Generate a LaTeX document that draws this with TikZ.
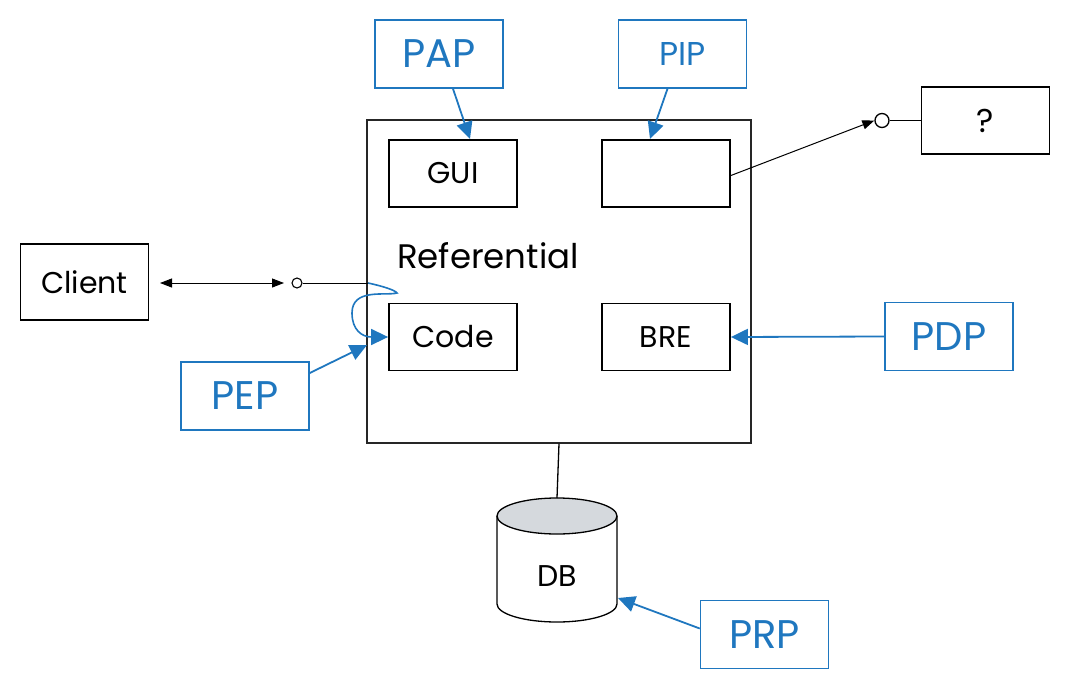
\documentclass[tikz,border=0pt]{standalone}
\usepackage{fontspec}
\setmainfont{Poppins}
\usetikzlibrary{arrows.meta}
\definecolor{pblue}{HTML}{1F77BF}
\definecolor{dbtop}{HTML}{D5D9DD}
\begin{document}
\begin{tikzpicture}[x=1pt,y=-1pt,
  box/.style={draw=black,line width=1.8pt,minimum width=128pt,minimum height=67pt,inner sep=0pt,font=\fontsize{30}{33}\selectfont},
  bbox/.style={draw=pblue,line width=1.5pt,minimum width=128pt,minimum height=68pt,inner sep=0pt,text=pblue,font=\fontsize{40}{44}\selectfont},
  barrow/.style={draw=pblue,line width=1.8pt,-{Triangle[length=17pt,width=16pt]}},
  karrow/.style={draw=black,line width=1pt,-{Triangle[length=12pt,width=9pt]}}
]
\useasboundingbox (0,0) rectangle (1072,691);
% main referential box
\node[draw=black!85,line width=1.1pt,minimum width=384pt,minimum height=323pt,inner sep=0pt] (ref) at (559,281.5) {};
\node[font=\fontsize{34}{37}\selectfont] (reftext) at (488,256) {Referential};
% inner boxes
\node[box] (gui) at (453,173.5) {GUI};
\node[box] (pipbox) at (666,173.5) {};
\node[box] (code) at (453,337) {Code};
\node[box] (bre) at (666,337) {BRE};
% outer black boxes
\node[box,minimum height=76pt] (client) at (84.5,282) {Client};
\node[box,font=\fontsize{33}{36}\selectfont] (q) at (985.5,120.5) {?};
% blue boxes
\node[bbox] (pap) at (439,54) {PAP};
\node[bbox,font=\fontsize{33}{36}\selectfont] (pip) at (682.5,54) {PIP};
\node[bbox] (pdp) at (949,336.5) {PDP};
\node[bbox] (pep) at (245,396) {PEP};
\node[bbox] (prp) at (764.5,634.5) {PRP};
% DB cylinder
\coordinate (dbtopc) at (557,516);
\fill[white] (497,516) -- (497,604) arc[start angle=180,end angle=0,x radius=60,y radius=18] -- (617,516) -- cycle;
\draw[line width=1.3pt] (497,516) -- (497,604) arc[start angle=180,end angle=0,x radius=60,y radius=18] -- (617,516);
\draw[line width=1.3pt,fill=dbtop] (dbtopc) ellipse[x radius=60,y radius=18];
\node[font=\fontsize{30}{33}\selectfont] (db) at (557,576) {DB};
\coordinate (dbtopedge) at (557,498);
\draw[line width=1.3pt] (ref.south) -- (dbtopedge);
% blue arrows
\draw[barrow] (pap.south) ++(14,0) coordinate (papout) -- (470,139);
\draw[barrow] (pip.south) ++(-15,0) coordinate (pipout) -- (650,139);
\draw[barrow] (pdp.west) -- (bre.east);
\draw[barrow] (pep.east) ++(0,-23) coordinate (pepout) -- (367,345);
\draw[barrow] (prp.west) ++(0,-6) coordinate (prpout) -- (618,598);
% loop arrow
\coordinate (loopstart) at (368,283);
\draw[draw=pblue,line width=1.6pt,-{Triangle[length=17pt,width=16pt]}] (loopstart) .. controls (382,286) and (395,290) .. (397,293) .. controls (385,296) and (352,288) .. (352,313) .. controls (352,330) and (362,337) .. (code.west);
% client connection
\coordinate (clientarr) at (160,283);
\coordinate (clientarr2) at (284,283);
\draw[line width=1pt,{Triangle[length=12pt,width=9pt]}-{Triangle[length=12pt,width=9pt]}] (clientarr) -- (clientarr2);
\node[draw=black,line width=1.1pt,circle,minimum size=10pt,inner sep=0pt] (c1) at (297,283) {};
\draw[line width=1pt] (c1.east) -- (loopstart);
% ? connection
\node[draw=black,line width=1.3pt,circle,minimum size=14pt,inner sep=0pt] (c2) at (882,120.5) {};
\draw[karrow] (pipbox.east) ++(0,2) coordinate (pipout2) -- (c2.west);
\draw[line width=1.3pt] (c2.east) -- (q.west);
\end{tikzpicture}
\end{document}
